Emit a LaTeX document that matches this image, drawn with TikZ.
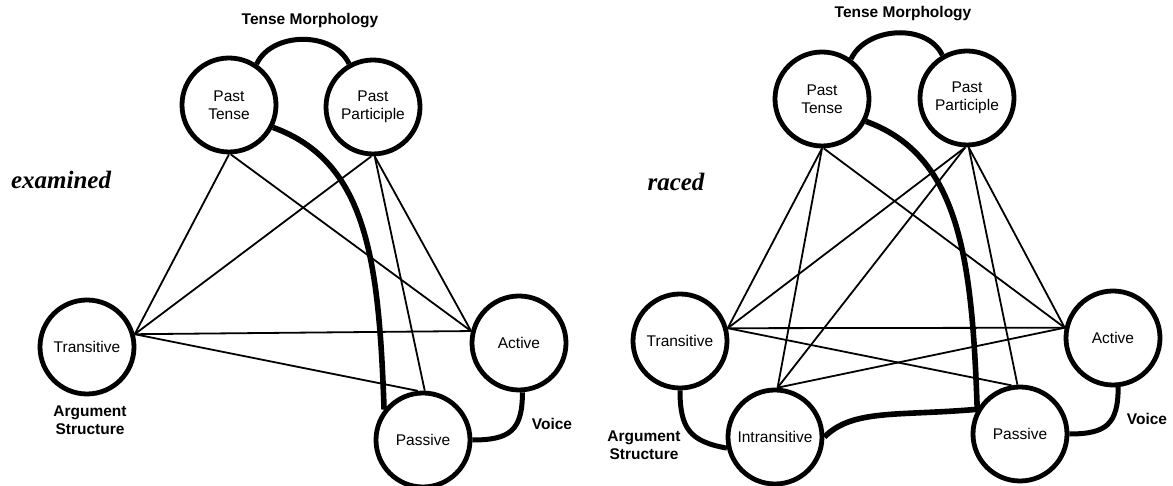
\documentclass[tikz,border=0pt]{standalone}
\usepackage{fontspec}
\setmainfont{Liberation Sans}
\newfontfamily\wordfont{Liberation Serif}
\begin{document}
\begin{tikzpicture}[x=1pt,y=1pt,
  concept/.style={circle,draw,line width=4.8pt,minimum size=94pt,inner sep=0pt,align=center,font=\fontsize{15.5}{18}\selectfont},
  link/.style={line width=1.8pt},
  bond/.style={line width=5pt},
  bigbond/.style={line width=5.6pt},
  lbl/.style={font=\fontsize{15.5}{18}\selectfont\bfseries,align=center},
  word/.style={font=\fontsize{25}{30}\selectfont\wordfont\bfseries\itshape}]
\useasboundingbox (0,0) rectangle (1173,486);
% ---------------- left panel: examined ----------------
\node[concept] (PT) at (229,381) {Past\\Tense};
\node[concept] (PP) at (373,379) {Past\\Participle};
\node[concept] (Tr) at (87,139) {Transitive};
\node[concept] (Ac) at (519,143) {Active};
\node[concept] (Pa) at (423,46) {Passive};
\node[lbl] (TM) at (310,465) {Tense Morphology};
\node[lbl] (AS) at (90,66) {Argument\\Structure};
\node[lbl] (VO) at (552,62) {Voice};
\node[word] (EX) at (61,306) {examined};
\draw[link] (PT.-90) -- (Tr.15);
\draw[link] (PT.-88) -- (Ac.166);
\draw[link] (PP.-92) -- (Tr.15);
\draw[link] (PP.-88) -- (Ac.166);
\draw[link] (PP.-88) -- (Pa.88);
\draw[link] (Tr.15) -- (Ac.166);
\draw[link] (Tr.15) -- (Pa.96);
\draw[bond] (PT.56) to[out=65,in=115] (PP.119);
\draw[bigbond] (PT.-27) .. controls +(-20:100) and +(92:150) .. (Pa.142);
\draw[bond] (Ac.-86) to[out=-90,in=0,looseness=1.4] (Pa.0);
% ---------------- right panel: raced ----------------
\node[concept] (PT2) at (822,387) {Past\\Tense};
\node[concept] (PP2) at (967,388) {Past\\Participle};
\node[concept] (Tr2) at (680,145) {Transitive};
\node[concept] (Ac2) at (1113,148) {Active};
\node[concept] (Pa2) at (1020,52) {Passive};
\node[concept] (In2) at (775,49) {Intransitive};
\node[lbl] (TM2) at (903,472) {Tense Morphology};
\node[lbl] (AS2) at (644,41) {Argument\\Structure};
\node[lbl] (VO2) at (1147,67) {Voice};
\node[word] (RA) at (676,304) {raced};
\draw[link] (PT2.-90) -- (Tr2.15);
\draw[link] (PT2.-90) -- (In2.87);
\draw[link] (PT2.-88) -- (Ac2.168);
\draw[link] (PP2.-92) -- (Tr2.15);
\draw[link] (PP2.-92) -- (In2.87);
\draw[link] (PP2.-88) -- (Ac2.168);
\draw[link] (PP2.-88) -- (Pa2.93);
\draw[link] (Tr2.15) -- (Ac2.168);
\draw[link] (Tr2.15) -- (Pa2.100);
\draw[link] (In2.87) -- (Ac2.168);
\draw[bond] (PT2.54) to[out=65,in=115] (PP2.120);
\draw[bigbond] (PT2.-27) .. controls +(-20:100) and +(92:150) .. (Pa2.150);
\draw[bigbond] (In2.0) .. controls +(45:40) and +(185:80) .. (Pa2.150);
\draw[bond] (Ac2.-84) to[out=-90,in=0,looseness=1.4] (Pa2.0);
\draw[bond] (Tr2.-90) to[out=-90,in=170,looseness=1.3] (In2.193);
\end{tikzpicture}
\end{document}
